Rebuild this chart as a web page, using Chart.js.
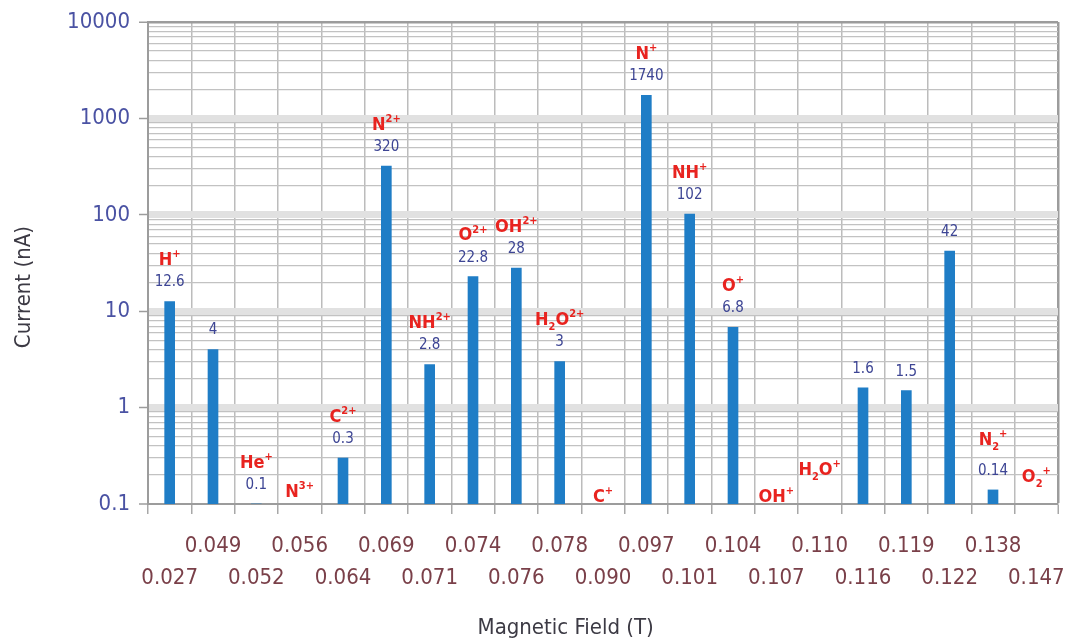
<!DOCTYPE html>
<html>
<head>
<meta charset="utf-8">
<script src="https://cdn.jsdelivr.net/npm/chart.js@4.4.1/dist/chart.umd.min.js"></script>
<style>
  html, body { margin: 0; padding: 0; background: #ffffff; }
  #wrap { width: 1070px; height: 640px; }
</style>
</head>
<body>
<div id="wrap"><canvas id="c" width="1070" height="640"></canvas></div>
<script>
// ---- data ----
const fields = ['0.027','0.049','0.052','0.056','0.064','0.069','0.071','0.074','0.076','0.078',
                '0.090','0.097','0.101','0.104','0.107','0.110','0.116','0.119','0.122','0.138','0.147'];
const currents = [12.6, 4, 0.1, null, 0.3, 320, 2.8, 22.8, 28, 3,
                  null, 1740, 102, 6.8, null, null, 1.6, 1.5, 42, 0.14, null];
const ions = ['H^+', '', 'He^+', 'N^3+', 'C^2+', 'N^2+', 'NH^2+', 'O^2+', 'OH^2+', 'H_2O^2+',
              'C^+', 'N^+', 'NH^+', 'O^+', 'OH^+', 'H_2O^+', '', '', '', 'N_2^+', 'O_2^+'];
// label anchor (nA) for ions whose label is not placed above a bar
const ionAnchor = [null, null, null, 0.133, null, null, null, null, null, null,
                   0.118, null, null, null, 0.118, 0.225, null, null, null, 0.46, 0.19];
const yMajor = [0.1, 1, 10, 100, 1000, 10000];
const yMajorLabels = ['0.1', '1', '10', '100', '1000', '10000'];
const xTitle = 'Magnetic Field (T)';
const yTitle = 'Current (nA)';

const FONT = "'DejaVu Sans Condensed', 'DejaVu Sans', sans-serif";

// tick values for the log grid (1..9 per decade)
const yTicks = [];
for (let k = 0; k < yMajor.length - 1; k++) {
  for (let d = 1; d <= 9; d++) yTicks.push(d === 1 ? yMajor[k] : d * yMajor[k]);
}
yTicks.push(yMajor[yMajor.length - 1]);
const majorSet = new Set(yMajor);

function parseIon(s) {
  const segs = [];
  const re = /([^_^]+)|_(\d)|\^([^_]+)/g;
  let m;
  while ((m = re.exec(s)) !== null) {
    if (m[1]) segs.push({t: m[1], k: 'n'});
    else if (m[2]) segs.push({t: m[2], k: 'sub'});
    else if (m[3]) segs.push({t: m[3], k: 'sup'});
  }
  return segs;
}

function drawIon(ctx, s, cx, cy) {
  const segs = parseIon(s);
  const fN = "bold 18px " + FONT, fS = "bold 11px " + FONT;
  let w = 0;
  segs.forEach(g => { ctx.font = g.k === 'n' ? fN : fS; g.w = ctx.measureText(g.t).width; w += g.w; });
  let x = cx - w / 2;
  ctx.fillStyle = '#e8231f';
  ctx.textAlign = 'left';
  ctx.textBaseline = 'middle';
  segs.forEach(g => {
    ctx.font = g.k === 'n' ? fN : fS;
    const dy = g.k === 'sup' ? -6 : (g.k === 'sub' ? 7 : 0);
    ctx.fillText(g.t, x, cy + dy);
    x += g.w;
  });
}

const labelPlugin = {
  id: 'barLabels',
  afterDatasetsDraw(chart) {
    const {ctx, scales: {x, y}} = chart;
    ctx.save();
    currents.forEach((v, i) => {
      const cx = x.getPixelForValue(i);
      let top = null;
      if (v !== null) {
        top = y.getPixelForValue(v);
        ctx.font = "15px " + FONT;
        ctx.fillStyle = '#3d4594';
        ctx.textAlign = 'center';
        ctx.textBaseline = 'middle';
        ctx.fillText(String(v), cx, top - 19);
      }
      if (ions[i]) {
        const cy = ionAnchor[i] !== null ? y.getPixelForValue(ionAnchor[i]) : top - 41;
        drawIon(ctx, ions[i], cx, cy);
      }
    });
    ctx.restore();
  },
  afterDraw(chart) {
    const ctx = chart.ctx;
    const a = chart.chartArea;
    ctx.save();
    ctx.font = "22px " + FONT;
    ctx.fillStyle = '#3c3a44';
    ctx.textAlign = 'center';
    ctx.textBaseline = 'middle';
    ctx.fillText(xTitle, a.left + (a.right - a.left) * 0.459, chart.height - 12);
    ctx.translate(24, a.top + (a.bottom - a.top) * 0.55);
    ctx.rotate(-Math.PI / 2);
    ctx.fillText(yTitle, 0, 0);
    ctx.restore();
  }
};

new Chart(document.getElementById('c'), {
  type: 'bar',
  data: {
    labels: fields,
    datasets: [{
      data: currents,
      backgroundColor: '#1f7dc6',
      barThickness: 10
    }]
  },
  options: {
    responsive: false,
    animation: false,
    layout: { padding: { top: 22, right: 12, left: 0, bottom: 0 } },
    plugins: { legend: { display: false }, tooltip: { enabled: false } },
    scales: {
      x: {
        offset: true,
        grid: {
          offset: true,
          color: (c) => c.type === 'tick' ? '#bcbcbc' : '#9c9c9c',
          lineWidth: (c) => c.type === 'tick' ? 1.5 : 2.5,
          tickColor: '#a8a8a8',
          tickWidth: 1.5,
          tickLength: 10
        },
        border: { color: '#9c9c9c', width: 2 },
        ticks: {
          autoSkip: false,
          maxRotation: 0,
          minRotation: 0,
          padding: 16,
          color: '#7a4049',
          font: { family: FONT, size: 22, lineHeight: 1.45 },
          callback: (v, i) => (i % 2 === 1 ? [fields[i], ''] : ['', fields[i]])
        },
        afterFit: (s) => { s.height = 136; s.paddingLeft = 0; s.paddingRight = 0; }
      },
      y: {
        type: 'logarithmic',
        min: 0.1,
        max: 10000,
        afterBuildTicks: (s) => {
          s.ticks = yTicks.map(v => ({ value: v, major: majorSet.has(v) }));
        },
        grid: {
          color: (c) => {
            if (!c.tick) return '#c2c2c2';
            const v = c.tick.value;
            if (v === 10000) return '#9c9c9c';
            if (majorSet.has(v)) return '#e1e1e1';
            return '#c2c2c2';
          },
          lineWidth: (c) => {
            if (!c.tick) return 1.2;
            const v = c.tick.value;
            if (v === 10000) return 2.5;
            if (v === 0.1) return 2;
            if (majorSet.has(v)) return 7;
            return 1.2;
          },
          tickColor: (c) => (c.tick && majorSet.has(c.tick.value)) ? '#9c9c9c' : 'rgba(0,0,0,0)',
          tickWidth: 1.5,
          tickLength: 9
        },
        border: { color: '#9c9c9c', width: 2 },
        ticks: {
          autoSkip: false,
          padding: 9,
          color: '#4a52a3',
          font: { family: FONT, size: 22 },
          callback: (v) => {
            const k = yMajor.indexOf(v);
            return k >= 0 ? yMajorLabels[k] : '';
          }
        },
        afterFit: (s) => { s.width = 148; s.paddingTop = 0; s.paddingBottom = 0; }
      }
    }
  },
  plugins: [labelPlugin]
});
</script>
</body>
</html>
